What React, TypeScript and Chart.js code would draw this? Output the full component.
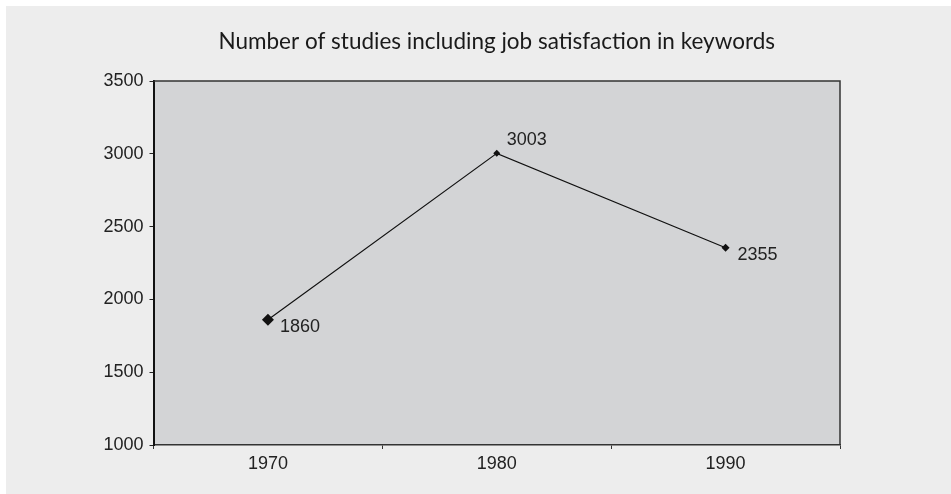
import React, { useEffect, useRef } from "react";
import { Chart, registerables } from "chart.js";

Chart.register(...registerables);

const TITLE = "Number of studies including job satisfaction in keywords";
const years = ["1970", "1980", "1990"];
const studies = [1860, 3003, 2355];
const yTicks = [1000, 1500, 2000, 2500, 3000, 3500];

const NUM_FONT = "'Liberation Sans', Arial, sans-serif";
const TITLE_FONT = "Lato, 'Open Sans', sans-serif";

const plotFrame = {
  id: "plotFrame",
  beforeDraw(chart: any) {
    const { ctx, chartArea: a } = chart;
    ctx.save();
    ctx.fillStyle = "#ededed";
    ctx.fillRect(0, 0, chart.width, chart.height);
    ctx.fillStyle = "#d3d4d6";
    ctx.fillRect(a.left, a.top, a.right - a.left, a.bottom - a.top);
    ctx.restore();
  },
  afterDatasetsDraw(chart: any) {
    const { ctx, chartArea: a } = chart;
    ctx.save();
    ctx.strokeStyle = "#333";
    ctx.lineWidth = 1.5;
    ctx.beginPath();
    ctx.moveTo(a.left, a.top);
    ctx.lineTo(a.right, a.top);
    ctx.lineTo(a.right, a.bottom);
    ctx.stroke();
    ctx.restore();
  },
};

const valueLabels = {
  id: "valueLabels",
  afterDatasetsDraw(chart: any) {
    const { ctx } = chart;
    const meta = chart.getDatasetMeta(0);
    const data = chart.data.datasets[0].data as number[];
    const maxV = Math.max(...data);
    ctx.save();
    ctx.font = `18px ${NUM_FONT}`;
    ctx.fillStyle = "#222";
    ctx.textAlign = "left";
    ctx.textBaseline = "middle";
    meta.data.forEach((pt: any, i: number) => {
      const above = data[i] === maxV;
      ctx.fillText(String(data[i]), pt.x + (above ? 10 : 12), pt.y + (above ? -13 : 7));
    });
    ctx.restore();
  },
};

export default function App() {
  const ref = useRef<HTMLCanvasElement | null>(null);
  useEffect(() => {
    if (!ref.current) return;
    const chart = new Chart(ref.current, {
      type: "line",
      data: {
        labels: years,
        datasets: [
          {
            data: studies,
            borderColor: "#111",
            borderWidth: 1.2,
            pointStyle: "rectRot",
            pointRadius: [6, 3.5, 4],
            pointBackgroundColor: "#111",
            pointBorderColor: "#111",
            pointBorderWidth: 0,
            tension: 0,
          },
        ],
      },
      options: {
        animation: false,
        responsive: false,
        layout: { padding: { top: 0, right: 111, bottom: 0, left: 0 } },
        plugins: {
          legend: { display: false },
          tooltip: { enabled: false },
          title: {
            display: true,
            text: TITLE,
            fullSize: false,
            color: "#1a1a1a",
            font: { family: TITLE_FONT, size: 22.5, weight: "normal" },
            padding: { top: 22, bottom: 26 },
          },
        },
        scales: {
          x: {
            offset: true,
            grid: { offset: true, drawOnChartArea: false, tickLength: 4, color: "#333", lineWidth: 1 },
            border: { color: "#333", width: 1.5 },
            ticks: { color: "#222", font: { family: NUM_FONT, size: 18 }, padding: 4 },
            afterFit: (s: any) => {
              s.height = 49;
            },
          },
          y: {
            min: 1000,
            max: 3500,
            afterBuildTicks: (s: any) => {
              s.ticks = yTicks.map((v) => ({ value: v }));
            },
            grid: { drawOnChartArea: false, tickLength: 4, color: "#222", lineWidth: 1 },
            border: { color: "#111", width: 2 },
            ticks: {
              color: "#222",
              font: { family: NUM_FONT, size: 18 },
              padding: 6,
              callback: (v: any) => String(v),
            },
            afterFit: (s: any) => {
              s.width = 147.5;
            },
          },
        },
      },
      plugins: [plotFrame, valueLabels],
    });
    return () => chart.destroy();
  }, []);
  return (
    <div style={{ position: "fixed", left: 0, top: 0, width: 951, height: 494, background: "#fff" }}>
      <canvas ref={ref} width={945} height={488} style={{ position: "absolute", left: 6, top: 6 }} />
    </div>
  );
}
